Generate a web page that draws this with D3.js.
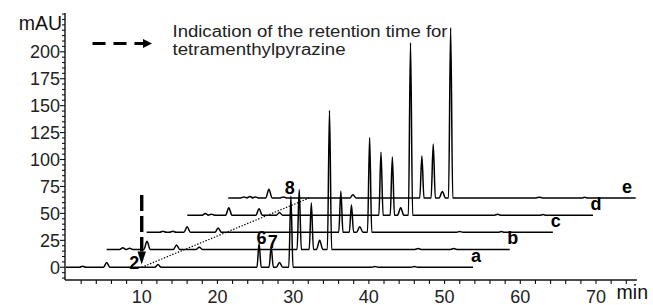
<!DOCTYPE html>
<html>
<head>
<meta charset="utf-8">
<script src="https://cdn.jsdelivr.net/npm/d3@7"></script>
<style>
  html, body { margin: 0; padding: 0; background: #fff; }
  svg { display: block; font-family: "Liberation Sans", Arial, Helvetica, sans-serif; }
</style>
</head>
<body>
<svg id="chart" width="653" height="305"></svg>
<script>
// ---------------- data ----------------
const traceNames   = ["a", "b", "c", "d", "e"];
const traceStart   = [0, 5.37, 10.66, 16.02, 21.43];     // min
const traceEnd     = [53.75, 58.6, 64.3, 69.6, 75.24];   // min
const traceOffset  = [0, 16.6, 32.5, 48.3, 64.3];        // mAU

// peaks: [retention time (min), height above own baseline (mAU)]
const peaksA = [[2.2, 1], [5.37, 4.5], [12.15, 2.5], [25.5, 22], [27.1, 19], [28.2, 4.5], [29.7, 66], [40.8, 0.8], [46.0, 0.8]];
const peaksB = [[7.5, 1.5], [8.4, 1], [10.7, 7.5], [14.6, 4], [17.6, 2], [30.8, 55.5], [32.4, 43], [33.5, 8.5], [34.8, 129], [46.5, 0.8], [51.2, 0.8]];
const peaksC = [[12.8, 1], [14.1, 1], [16.0, 5], [20.1, 4], [36.3, 38], [37.7, 25.5], [38.8, 5], [40.1, 88], [52.0, 0.8], [57.5, 0.6]];
const peaksD = [[18.4, 1.5], [19.2, 1], [21.5, 7], [25.5, 6], [28.2, 2.5], [41.6, 58.5], [43.1, 54], [44.2, 7], [45.5, 160], [57.0, 0.8], [63.0, 0.6]];
const peaksE = [[23.5, 1], [24.3, 1.5], [25.0, 1], [26.8, 8], [28.7, 1], [37.9, 3], [47.0, 39], [48.5, 50], [49.7, 6], [50.8, 158], [62.5, 0.8], [68.5, 0.6]];
const tracePeaks = [peaksA, peaksB, peaksC, peaksD, peaksE];

const peakLabels     = ["6", "7", "8"];
const peakLabelTimes = [25.5, 27.1, 29.7];
const peakLabelVals  = [22, 19, 66];

const markerTime  = 10;          // retention time of tetramethylpyrazine in trace a
const markerLabel = "2";

const yTicksMajor = [0, 25, 50, 75, 100, 125, 150, 175, 200];
const xTicksMajor = [10, 20, 30, 40, 50, 60, 70];

const legendText = ["Indication of the retention time for", "tetramenthylpyrazine"];

// ---------------- scales ----------------
const svg = d3.select("#chart");
const x = d3.scaleLinear().domain([0, 75.4]).range([66, 636.9]);
const y = d3.scaleLinear().domain([-12, 236]).range([280.2, 13]);
const X0 = 65, Y0 = 280;

// ---------------- axes ----------------
const axisG = svg.append("g").attr("stroke", "#111").attr("fill", "none");
axisG.append("line").attr("x1", X0).attr("x2", X0).attr("y1", y(236)).attr("y2", Y0).attr("stroke-width", 1.4);
axisG.append("line").attr("x1", X0).attr("x2", x(75.4)).attr("y1", Y0).attr("y2", Y0).attr("stroke-width", 1.4);

// y ticks (minor every 5, major every 25)
d3.range(-10, 236, 5).forEach(v => {
  const major = yTicksMajor.includes(v);
  axisG.append("line")
    .attr("x1", X0 - (major ? 5 : 3)).attr("x2", X0)
    .attr("y1", y(v)).attr("y2", y(v))
    .attr("stroke-width", 1.1);
});
// x ticks (every 2)
d3.range(2, 75.4, 2).forEach(v => {
  axisG.append("line")
    .attr("x1", x(v)).attr("x2", x(v))
    .attr("y1", Y0).attr("y2", Y0 + 4)
    .attr("stroke-width", 1.1);
});

svg.append("g").selectAll("text").data(yTicksMajor).join("text")
  .attr("x", 60).attr("y", d => y(d)).attr("dy", "0.36em")
  .attr("text-anchor", "end").attr("font-size", 18).attr("fill", "#222")
  .text(d => d);

svg.append("g").selectAll("text").data(xTicksMajor).join("text")
  .attr("x", d => x(d)).attr("y", 302.5)
  .attr("text-anchor", "middle").attr("font-size", 18).attr("fill", "#222")
  .text(d => d);

svg.append("text").attr("x", 62).attr("y", 29.5).attr("text-anchor", "end")
  .attr("font-size", 19.5).attr("fill", "#111").text("mAU");
svg.append("text").attr("x", 648).attr("y", 299).attr("text-anchor", "end")
  .attr("font-size", 19.5).attr("fill", "#111").text("min");

// ---------------- traces ----------------
const line = d3.line().x(d => x(d[0])).y(d => y(d[1])).curve(d3.curveMonotoneX);

tracePeaks.forEach((peaks, i) => {
  const off = traceOffset[i];
  const pts = [[traceStart[i], off]];
  peaks.forEach(([t, h]) => {
    const w = h > 12 ? 0.28 : 0.42;
    pts.push([t - w, off], [t, off + h], [t + w, off]);
  });
  pts.push([traceEnd[i], off]);
  svg.append("path").datum(pts)
    .attr("d", line)
    .attr("fill", "none").attr("stroke", "#000")
    .attr("stroke-width", 1.5).attr("stroke-linejoin", "round");

  let lx = x(traceEnd[i]) + 3;
  lx = Math.min(lx, 627);
  svg.append("text").attr("x", lx).attr("y", y(off) - 5)
    .attr("text-anchor", "middle").attr("font-size", 18).attr("font-weight", "bold")
    .attr("fill", "#000").text(traceNames[i]);
});

// peak labels on trace a
svg.append("g").selectAll("text").data(peakLabels).join("text")
  .attr("x", (d, i) => x(peakLabelTimes[i]) + [2.5, 1.5, -1][i])
  .attr("y", (d, i) => y(peakLabelVals[i]) + [0, 1, -2][i])
  .attr("text-anchor", "middle").attr("font-size", 18).attr("font-weight", "bold")
  .attr("fill", "#000").text(d => d);

// dotted line linking the tetramethylpyrazine positions
svg.append("line")
  .attr("x1", x(markerTime)).attr("y1", y(0))
  .attr("x2", x(markerTime + traceStart[4] + 0.7)).attr("y2", y(traceOffset[4]))
  .attr("stroke", "#000").attr("stroke-width", 1.2).attr("stroke-dasharray", "1.4,1.6");

// vertical dashed arrow
const ax = x(markerTime);
svg.append("line").attr("x1", ax).attr("x2", ax).attr("y1", 195).attr("y2", 251.5)
  .attr("stroke", "#000").attr("stroke-width", 3.4).attr("stroke-dasharray", "16,5");
svg.append("path").attr("d", `M${ax - 4.2},251.5 L${ax + 4.2},251.5 L${ax},264.5 Z`).attr("fill", "#000");
svg.append("text").attr("x", ax - 2.5).attr("y", 268.5).attr("text-anchor", "end")
  .attr("font-size", 18).attr("font-weight", "bold").attr("fill", "#000").text(markerLabel);

// legend
svg.append("line").attr("x1", 92.5).attr("x2", 144).attr("y1", 43.5).attr("y2", 43.5)
  .attr("stroke", "#000").attr("stroke-width", 3.2).attr("stroke-dasharray", "13,8");
svg.append("path").attr("d", "M143,39 L152,43.5 L143,48 Z").attr("fill", "#000");
const legendWidths = [275, 173];
svg.append("g").selectAll("text").data(legendText).join("text")
  .attr("x", 172.5).attr("y", (d, i) => 36.5 + i * 18)
  .attr("font-size", 16).attr("fill", "#222")
  .attr("textLength", (d, i) => legendWidths[i]).attr("lengthAdjust", "spacingAndGlyphs")
  .text(d => d);
</script>
</body>
</html>
